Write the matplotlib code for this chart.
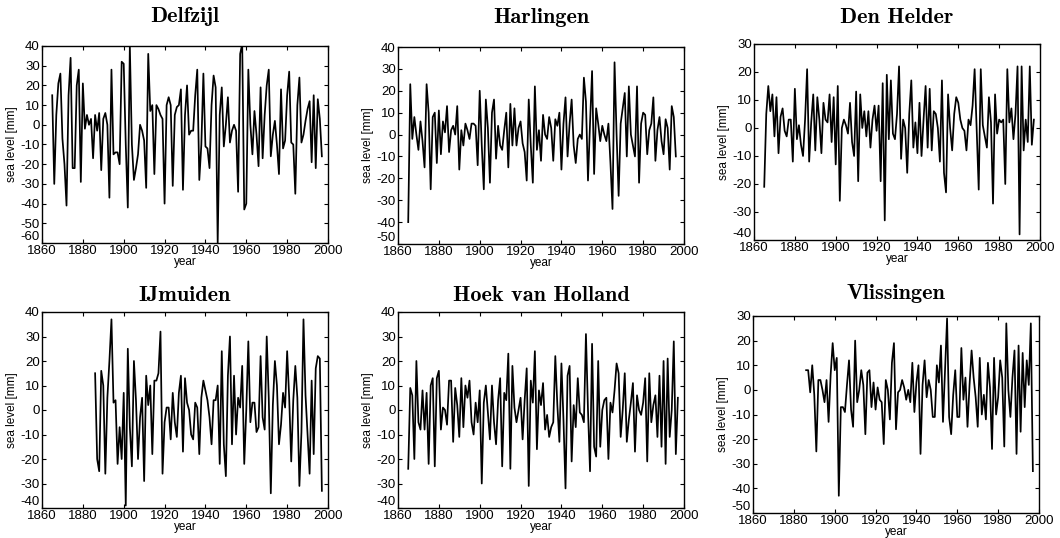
import numpy as np
import matplotlib
matplotlib.use("Agg")
import matplotlib.pyplot as plt

plt.rcParams['font.family'] = ['Liberation Sans', 'DejaVu Sans']
plt.rcParams['axes.unicode_minus'] = False

# ---------------- data (annual mean sea level anomaly, mm) ----------------
delfzijl_start = 1865
delfzijl = [15, -30, 5, 21, 26, -7, -20, -41, 15, 34, -22, -22, 20, 28, -29, 21, -2, 5, 0, 3,
            -17, 5, -3, 6, -23, 3, 6, 0, -37, 28, -15, -14, -14, -20, 32, 31, -10, -42, 40, -10,
            -28, -22, -15, 0, -3, -8, -32, 36, 7, 10, -25, 10, 8, 5, 3, -40, 10, 14, 10, -31,
            5, 9, 10, 18, -33, 5, 20, -5, -3, -3, 15, 28, -28, -10, 26, -11, -12, -22, 10, 25,
            19, -60, 5, 19, -11, 0, 14, -9, -3, 0, -3, -34, 36, 41, -43, -40, 28, 0, -15, 7,
            -5, -21, 19, -17, 5, 20, 28, -16, -5, 2, -10, -25, 18, -12, -8, 15, 27, -9, -10, -35,
            10, 24, -9, -5, 2, 8, 12, -19, 15, -22, 13, 3, -16]

harlingen_start = 1865
harlingen = [-40, 23, -2, 8, 0, -7, 6, -3, -15, 23, 10, -25, 8, 10, -13, 11, -9, 6, 1, 13,
             -8, 2, 4, 0, 13, -16, 2, -5, 5, 2, -2, 5, 5, 4, -14, 20, -5, -25, 16, 3,
             -22, 10, 16, -11, 4, -5, -7, 2, 10, -15, 14, -5, 12, -5, 3, 6, -4, -8, -21, 16,
             -5, -22, 22, -7, 2, -12, 9, 0, -2, 8, 3, -12, 7, 4, 10, -16, 5, 17, -10, 5,
             16, -5, -13, -2, 0, -2, 26, 15, -21, 5, 29, -18, 12, 5, -3, 4, 0, -3, 5, -13,
             -34, 33, 0, -28, 5, 12, 19, -10, 22, 0, -5, -10, 22, -22, 5, 10, 9, -9, 2, 5,
             17, -12, 2, 8, -3, -9, 7, 3, -16, 13, 8, -10]

denhelder_start = 1865
denhelder = [-21, 5, 15, 6, 12, -3, 11, -9, 4, 7, -1, -3, 3, 3, -12, 14, -4, 1, -6, -10,
             3, 21, -12, 2, 12, -8, 11, 3, -9, 9, 3, 2, 12, -5, 11, -13, 15, -26, 0, 3,
             1, -2, 9, -5, -10, 13, -19, 12, 0, 6, -3, 6, -7, 3, 8, -1, 8, -19, 16, -33,
             19, -4, 17, -2, -4, 5, 22, -11, 3, 0, -16, 5, 17, -7, 2, -9, 9, -10, 3, 15,
             -7, 14, -8, 6, 5, 0, -12, 17, -16, -23, 12, 0, -8, 5, 11, 9, 3, 0, -1, -8,
             3, 1, 8, 21, 0, -22, 21, 1, -3, -7, 11, 2, -27, 12, -2, 3, 2, 3, -20, 21,
             2, 7, -4, 5, 22, -38, 22, -8, 3, -5, 22, -6, 3]

ijmuiden_start = 1886
ijmuiden = [15, -20, -25, 16, 10, -26, 5, 20, 37, 3, 4, -22, -7, -20, 7, -39, 25, -7, -23, 20,
            4, -20, -3, 5, -29, 14, 2, 10, -18, 12, 12, 15, 32, -26, -5, 1, 1, -12, 7, -5,
            -11, 7, 14, -17, 13, 3, 0, -10, -12, 3, 1, -18, 5, 12, 8, 4, -3, -14, 4, 4,
            10, -22, 24, -14, -27, 14, 30, -14, 14, -10, 5, 1, 18, -22, 0, 28, -5, 3, 3, -9,
            -7, 22, -3, -8, 30, 5, -34, 2, 20, 10, -14, -6, 7, 1, 24, 5, -21, 4, 18, 5,
            -31, -9, 37, 6, -10, -26, 12, -18, 17, 22, 21, -33]

hoek_start = 1865
hoek = [-24, 9, 6, -20, 20, -5, -8, 8, -8, 7, -22, 10, 13, -23, 13, 16, -8, 1, 0, -6,
        12, 12, -13, 9, 2, -11, 13, -7, 10, 5, 12, -5, -10, 3, -5, 8, -30, 3, 10, -1,
        -12, 10, -5, -14, 4, 13, -23, 7, 4, 23, -24, 18, 1, -5, 0, 5, -12, 4, 17, -31,
        12, 3, 24, -16, 8, 2, 11, -8, -2, -11, -7, -5, 22, 2, -13, 19, -4, -32, 14, 18,
        -21, 2, -7, 13, -1, -2, -5, 31, 0, -25, 27, -15, -19, 20, -15, 0, 4, 5, -20, 3,
        -1, 8, 19, 15, -11, 0, 15, -13, -4, 3, 11, -17, 6, 0, -2, 3, 13, -21, 15, -5,
        2, 6, -11, 14, -15, 20, -22, 21, -11, 0, 28, -18, 5]

vlissingen_start = 1886
vlissingen = [8, 8, -1, 10, -2, -25, 4, 4, 0, -5, 4, -13, 6, 19, 8, 13, -43, -7, -7, -9,
              2, 12, -8, -15, 20, -5, 0, 8, 2, -18, 7, 8, -7, 3, -8, 1, -4, -5, -22, 4,
              0, -12, 11, 19, -16, -1, 0, 4, 1, -4, 0, -5, 11, -9, 3, 10, -26, 2, 12, -3,
              4, 0, -11, -11, 10, 3, 18, -13, 8, 29, -11, -18, -2, 8, -11, -11, 17, -4, 5, -15,
              2, 16, 5, -3, -15, 13, -10, -2, -12, 11, 1, -24, 13, -10, -3, 12, 5, -23, 27, 0,
              -11, 5, 16, -26, 18, -17, 15, -7, 12, 2, 27, -33]

titles = ["Delfzijl", "Harlingen", "Den Helder", "IJmuiden", "Hoek van Holland", "Vlissingen"]
series = [(delfzijl_start, delfzijl), (harlingen_start, harlingen), (denhelder_start, denhelder),
          (ijmuiden_start, ijmuiden), (hoek_start, hoek), (vlissingen_start, vlissingen)]
ylims = [(-60, 40), (-50, 40), (-40, 30), (-40, 40), (-40, 40), (-50, 30)]
xticks = [1860, 1880, 1900, 1920, 1940, 1960, 1980, 2000]

# axes rectangles in pixels: left, top, right, bottom ; title pad
W, H = 1060, 538
rects_px = [(42, 46, 328, 243), (398, 47, 684, 244), (754, 44, 1040, 240),
            (42, 312, 328, 508), (398, 312, 684, 508), (753, 316, 1039, 513)]
title_pads = [17, 17, 15, 8, 8, 12]

fig = plt.figure(figsize=(W / 100, H / 100), dpi=100)
for title, (start, vals), yl, (l, t, r, b), tp in zip(titles, series, ylims, rects_px, title_pads):
    ax = fig.add_axes([l / W, 1 - b / H, (r - l) / W, (b - t) / H])
    years = np.arange(start, start + len(vals))
    ax.plot(years, vals, color='black', lw=1.25)
    ax.set_xlim(1860, 2000)
    ax.set_ylim(*yl)
    ax.set_xticks(xticks)
    ax.set_yticks(np.arange(yl[0], yl[1] + 1, 10))
    ax.tick_params(direction='in', top=True, right=True, length=3, width=0.8,
                   labelsize=9.5, pad=1.5)
    for sp in ax.spines.values():
        sp.set_linewidth(1.0)
    ax.set_xlabel('year', fontsize=8.5, labelpad=-1)
    ax.set_ylabel('sea level [mm]', fontsize=8.5, labelpad=2)
    ax.set_title(title, fontsize=16, fontfamily='cmb10', pad=tp)
    # lowest y label sits just above the corner so it does not collide with the first year label
    fig.canvas.draw()
    ylabs = ax.get_yticklabels()
    ylabs[0].set_verticalalignment('bottom')

fig.savefig('out.png', dpi=100)
